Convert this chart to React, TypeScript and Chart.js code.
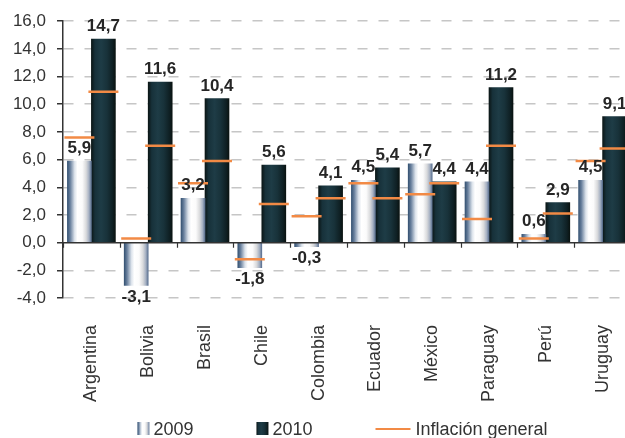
import React, { useEffect, useRef } from 'react';
import { Chart, registerables } from 'chart.js';

Chart.register(...registerables);

const countries = ['Argentina', 'Bolivia', 'Brasil', 'Chile', 'Colombia', 'Ecuador', 'México', 'Paraguay', 'Perú', 'Uruguay'];
const values2009 = [5.9, -3.1, 3.2, -1.8, -0.3, 4.5, 5.7, 4.4, 0.6, 4.5];
const values2010 = [14.7, 11.6, 10.4, 5.6, 4.1, 5.4, 4.4, 11.2, 2.9, 9.1];
const inflation2009 = [7.6, 0.3, 4.3, -1.2, 1.9, 4.3, 3.5, 1.7, 0.3, 5.9];
const inflation2010 = [10.9, 7.0, 5.9, 2.8, 3.2, 3.2, 4.3, 7.0, 2.1, 6.8];
const seriesLabels = ['2009', '2010', 'Inflación general'];
const yMin = -4;
const yMax = 16;
const yStep = 2;

const FONT = '"Liberation Sans", Arial, Helvetica, sans-serif';
const CAT_PCT = 0.845;
const MARK_OFF = CAT_PCT / 4;
const ORANGE = '#F28A45';

const stops2009: [number, string][] = [
  [0, '#365373'],
  [0.12, '#6a819e'],
  [0.3, '#dce3eb'],
  [0.42, '#ffffff'],
  [0.62, '#fbfbfb'],
  [0.78, '#d9dadc'],
  [0.9, '#a5b0c2'],
  [1, '#5a7090'],
];
const stops2010: [number, string][] = [
  [0, '#0b1616'],
  [0.15, '#17313a'],
  [0.4, '#1e3c46'],
  [0.65, '#18323a'],
  [0.88, '#0f2024'],
  [1, '#0a1311'],
];

const fmt = (v: number) => Number(v).toFixed(1).replace('.', ',');

function grad(ctx: CanvasRenderingContext2D, left: number, width: number, stops: [number, string][]) {
  const g = ctx.createLinearGradient(left, 0, left + width, 0);
  stops.forEach(([o, c]) => g.addColorStop(o, c));
  return g;
}

// scriptable so each bar gets its own (unshared) options object
const fill2009 = (_c: any) => '#c8d0da';
const fill2010 = (_c: any) => '#17313a';

const barGradientPlugin = {
  id: 'barGradient',
  beforeDatasetsDraw(chart: any) {
    const ctx = chart.ctx;
    [0, 1].forEach((di) => {
      const meta = chart.getDatasetMeta(di);
      meta.data.forEach((el: any) => {
        const w = el.width;
        const left = el.x - w / 2;
        if (!isFinite(left) || !isFinite(w) || w <= 0) return;
        if (el.options && !Object.isFrozen(el.options)) {
          el.options.backgroundColor = grad(ctx, left, w, di === 0 ? stops2009 : stops2010);
        }
      });
    });
  },
};

const zeroAxisPlugin = {
  id: 'zeroAxis',
  afterDatasetsDraw(chart: any) {
    const ctx = chart.ctx;
    const xs = chart.scales.x;
    const ys = chart.scales.y;
    const y0 = ys.getPixelForValue(0);
    const { left, right } = chart.chartArea;
    ctx.save();
    ctx.strokeStyle = '#333333';
    ctx.lineWidth = 1.5;
    ctx.beginPath();
    ctx.moveTo(left, y0);
    ctx.lineTo(right, y0);
    ctx.stroke();
    const catW = xs.width / countries.length;
    ctx.beginPath();
    for (let i = 0; i <= countries.length; i++) {
      const x = Math.round(xs.getPixelForValue(0) - catW / 2 + i * catW) + 0.5;
      ctx.moveTo(x, y0);
      ctx.lineTo(x, y0 + 5);
    }
    ctx.lineWidth = 1.2;
    ctx.stroke();
    ctx.restore();
  },
};

const dataLabelPlugin = {
  id: 'dataLabels',
  afterDatasetsDraw(chart: any) {
    const ctx = chart.ctx;
    ctx.save();
    ctx.font = `bold 17px ${FONT}`;
    ctx.fillStyle = '#262626';
    ctx.textAlign = 'center';
    const sets = [values2009, values2010];
    [0, 1].forEach((di) => {
      const meta = chart.getDatasetMeta(di);
      meta.data.forEach((el: any, i: number) => {
        const v = sets[di][i];
        if (v >= 0) {
          ctx.textBaseline = 'alphabetic';
          ctx.fillText(fmt(v), el.x, el.y - 8);
        } else {
          ctx.textBaseline = 'top';
          ctx.fillText(fmt(v), el.x, el.y + 3);
        }
      });
    });
    ctx.restore();
  },
};

const legendPlugin = {
  id: 'customLegend',
  afterDraw(chart: any) {
    const ctx = chart.ctx;
    const ds = chart.data.datasets;
    ctx.save();
    ctx.font = `18px ${FONT}`;
    ctx.textBaseline = 'middle';
    ctx.textAlign = 'left';
    const boxW = 12;
    const boxH = 13;
    const lineW = 35;
    const gap = 63;
    const widths = ds.map((d: any, i: number) => {
      const tw = ctx.measureText(d.label).width;
      return i < 2 ? boxW + 4 + tw : lineW + 5 + tw;
    });
    const total = widths.reduce((a: number, b: number) => a + b, 0) + gap * (widths.length - 1);
    const { left, right } = chart.chartArea;
    let x = (left + right) / 2 - 4.5 - total / 2;
    const y = chart.height - 9;
    ds.forEach((d: any, i: number) => {
      if (i < 2) {
        ctx.fillStyle = grad(ctx, x, boxW, i === 0 ? stops2009 : stops2010);
        ctx.fillRect(x, y - 7, boxW, boxH);
        ctx.fillStyle = '#333333';
        ctx.fillText(d.label, x + boxW + 4, y + 1);
      } else {
        ctx.strokeStyle = ORANGE;
        ctx.lineWidth = 2;
        ctx.beginPath();
        ctx.moveTo(x, y);
        ctx.lineTo(x + lineW, y);
        ctx.stroke();
        ctx.fillStyle = '#333333';
        ctx.fillText(d.label, x + lineW + 5, y + 1);
      }
      x += widths[i] + gap;
    });
    ctx.restore();
  },
};

export default function App() {
  const ref = useRef<HTMLCanvasElement | null>(null);

  useEffect(() => {
    if (!ref.current) return;
    const bars2009 = values2009.map((v, i) => ({ x: i - MARK_OFF, y: v }));
    const bars2010 = values2010.map((v, i) => ({ x: i + MARK_OFF, y: v }));
    const inflationPoints = countries.flatMap((_, i) => [
      { x: i - MARK_OFF, y: inflation2009[i] },
      { x: i + MARK_OFF, y: inflation2010[i] },
    ]);
    const chart = new Chart(ref.current, {
      type: 'bar',
      data: {
        labels: countries,
        datasets: [
          {
            label: seriesLabels[0],
            data: bars2009,
            xAxisID: 'x2',
            backgroundColor: fill2009,
            borderWidth: 0,
            grouped: false,
            categoryPercentage: 1,
            barPercentage: 1,
            order: 1,
          } as any,
          {
            label: seriesLabels[1],
            data: bars2010,
            xAxisID: 'x2',
            backgroundColor: fill2010,
            borderWidth: 0,
            grouped: false,
            categoryPercentage: 1,
            barPercentage: 1,
            order: 1,
          } as any,
          {
            type: 'line',
            label: seriesLabels[2],
            data: inflationPoints,
            xAxisID: 'x2',
            yAxisID: 'y',
            showLine: false,
            pointStyle: 'line',
            pointRadius: 15,
            pointHoverRadius: 15,
            pointBorderWidth: 2.5,
            borderColor: ORANGE,
            backgroundColor: ORANGE,
            order: 0,
          } as any,
        ],
      },
      options: {
        responsive: false,
        animation: false,
        events: [],
        layout: { padding: { top: 18, right: 29, bottom: 30, left: 0 } },
        plugins: {
          legend: { display: false },
          tooltip: { enabled: false },
        },
        scales: {
          x: {
            type: 'category',
            offset: true,
            grid: { display: false, drawTicks: false },
            border: { display: false },
            ticks: {
              autoSkip: false,
              minRotation: 90,
              maxRotation: 90,
              padding: 27,
              color: '#333333',
              font: { family: FONT, size: 18 },
            },
            afterFit: (s: any) => {
              s.height = 110;
              s.paddingLeft = 0;
              s.paddingRight = 0;
            },
          },
          x2: {
            type: 'linear',
            display: false,
            min: -0.5,
            max: 9.5,
            offset: false,
            ticks: { stepSize: 1 },
          },
          y: {
            min: yMin,
            max: yMax,
            ticks: {
              stepSize: yStep,
              padding: 11,
              color: '#333333',
              font: { family: FONT, size: 17 },
              callback: (v: any) => fmt(Number(v)),
            },
            grid: {
              color: (c: any) => (c.tick && c.tick.value === 0 ? 'rgba(0,0,0,0)' : '#c6c6c6'),
              lineWidth: 1.5,
              drawTicks: true,
              tickLength: 6,
              tickColor: '#333333',
              tickWidth: 1.5,
              tickBorderDash: [],
            },
            border: {
              display: true,
              color: '#333333',
              width: 1.5,
              dash: [10, 11],
            },
            afterFit: (s: any) => {
              s.width = 63;
            },
          },
        },
      } as any,
      plugins: [barGradientPlugin, zeroAxisPlugin, dataLabelPlugin, legendPlugin],
    });
    return () => chart.destroy();
  }, []);

  return (
    <div
      style={{
        position: 'fixed',
        left: 0,
        top: 0,
        width: 625,
        height: 438,
        overflow: 'hidden',
        background: '#ffffff',
      }}
    >
      <canvas ref={ref} width={660} height={438} style={{ display: 'block', width: 660, height: 438 }} />
    </div>
  );
}
